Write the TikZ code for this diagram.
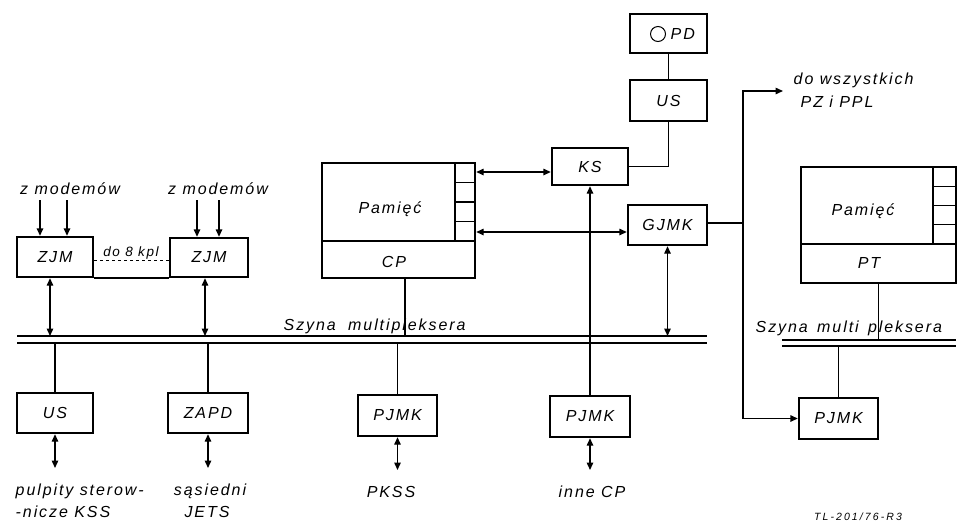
\documentclass[tikz,border=0pt]{standalone}
\usepackage{fontspec}
\setmainfont{Liberation Sans}[LetterSpace=12]
\usetikzlibrary{arrows.meta}
\newcommand\lbl{\fontsize{16}{18}\selectfont\itshape}
\newcommand\lbls{\fontsize{13.5}{15}\selectfont\itshape}
\begin{document}
\begin{tikzpicture}[x=1pt,y=-1pt, line width=1.4pt,
  box/.style={draw, rectangle, line width=2.4pt, inner sep=0pt, font=\lbl},
  tip/.style={-{Triangle[length=7.5pt,width=6.5pt]}},
  dtip/.style={{Triangle[length=7.5pt,width=6.5pt]}-{Triangle[length=7.5pt,width=6.5pt]}},
  txt/.style={font=\lbl, inner sep=0pt}]
\useasboundingbox (0,0) rectangle (960,523);
% boxes
\node[box, minimum width=76pt, minimum height=40pt] (zjm1) at (55,257) {ZJM};
\node[box, minimum width=78pt, minimum height=39pt] (zjm2) at (209,257.5) {ZJM};
\node[box, minimum width=76pt, minimum height=40pt] (usL) at (55,413) {US};
\node[box, minimum width=80pt, minimum height=40pt] (zapd) at (208,413) {ZAPD};
\node[box, minimum width=153pt, minimum height=115pt] (cp) at (398.5,220.5) {};
\node[box, minimum width=79pt, minimum height=41pt] (pjmk1) at (397.5,415.5) {PJMK};
\node[box, minimum width=80pt, minimum height=41pt] (pjmk2) at (590,416.5) {PJMK};
\node[box, minimum width=76pt, minimum height=37pt] (ks) at (590,166.5) {KS};
\node[box, minimum width=77pt, minimum height=39pt] (opd) at (668.5,33.5) {};
\node[box, minimum width=77pt, minimum height=41pt] (usT) at (668.5,100.5) {US};
\node[box, minimum width=79pt, minimum height=40pt] (gjmk) at (667.5,225) {GJMK};
\node[box, minimum width=155pt, minimum height=116pt] (pt) at (878.5,225) {};
\node[box, minimum width=79pt, minimum height=41pt] (pjmk3) at (838.5,418.5) {PJMK};
% OPD content
\draw[line width=1pt] (658,34) circle (7.5pt);
\node[txt, anchor=west] (pd) at (670,34) {PD};
% CP internals
\draw (322,241) -- (475,241);
\draw (455,163) -- (455,241);
\foreach \yy in {182.5,202,221.5} \draw (455,\yy) -- (475,\yy);
\node[txt, anchor=base] (cpmem) at (390,213) {Pamięć};
\node[txt, anchor=base] (cplab) at (394,267) {CP};
% PT internals
\draw (801,244) -- (956,244);
\draw (933,167) -- (933,244);
\foreach \yy in {186.25,205.5,224.75} \draw (933,\yy) -- (956,\yy);
\node[txt, anchor=base] (ptmem) at (863,215) {Pamięć};
\node[txt, anchor=base] (ptlab) at (869,268) {PT};
% buses
\coordinate (busT) at (0,336);
\coordinate (busB) at (0,343);
\draw (17,336) -- (707,336);
\draw (17,343) -- (707,343);
\node[txt, anchor=base west] (bus1) at (283,330) {Szyna\hspace{6pt} multipleksera};
\coordinate (bus2T) at (0,340);
\coordinate (bus2B) at (0,346);
\draw (782,340) -- (956,340);
\draw (782,346) -- (956,346);
\node[txt, anchor=base west] (bus2) at (755,332) {Szyna\hspace{3pt} multi\hspace{3pt} pleksera};
% modem inputs
\node[txt] (zm1) at (70,189) {z modemów};
\node[txt] (zm2) at (218,189) {z modemów};
\coordinate (m1) at (40,200);
\coordinate (m2) at (67,200);
\coordinate (m3) at (197,200);
\coordinate (m4) at (219,200);
\draw[tip] (m1) -- (zjm1.north -| m1);
\draw[tip] (m2) -- (zjm1.north -| m2);
\draw[tip] (m3) -- (zjm2.north -| m3);
\draw[tip] (m4) -- (zjm2.north -| m4);
% between ZJM
\draw[line width=2pt] (zjm1.south east) -- (zjm2.south west);
\draw[dashed, line width=1pt] (zjm1.east |- 0,260) -- (zjm2.west |- 0,260);
\node[font=\lbls, inner sep=0pt, anchor=base] (do8) at (131,256) {do 8 kpl};
% ZJM to bus
\draw[dtip] ([xshift=-5pt]zjm1.south) -- ([xshift=-5pt]zjm1.south |- busT);
\draw[dtip] ([xshift=-4pt]zjm2.south) -- ([xshift=-4pt]zjm2.south |- busT);
% bottom left
\draw (usL.north) -- (usL.north |- busB);
\draw (zapd.north) -- (zapd.north |- busB);
\coordinate (eUS) at (55,468);
\coordinate (eZA) at (208,468);
\draw[dtip] (usL.south) -- (eUS);
\draw[dtip] (zapd.south) -- (eZA);
\node[txt, anchor=base west] (pl1) at (15,495) {pulpity sterow-};
\node[txt, anchor=base west] (pl2) at (15,517) {-nicze KSS};
\node[txt, anchor=base] (sa1) at (210,495) {sąsiedni};
\node[txt, anchor=base] (sa2) at (207,517) {JETS};
% CP to bus
\draw ([xshift=6.5pt]cp.south) -- ([xshift=6.5pt]cp.south |- busT);
\draw (pjmk1.north) -- (pjmk1.north |- busB);
\coordinate (eP1) at (397.5,470);
\draw[dtip] (pjmk1.south) -- (eP1);
\node[txt, anchor=base] (pkss) at (391,497) {PKSS};
% PJMK2 to KS
\draw[tip] (pjmk2.north) -- (ks.south);
\coordinate (eP2) at (590,470);
\draw[dtip] (pjmk2.south) -- (eP2);
\node[txt, anchor=base] (inne) at (592,497) {inne CP};
% CP to KS / GJMK
\draw[dtip] (cp.east |- 0,172) -- (ks.west |- 0,172);
\draw[dtip] (cp.east |- 0,232) -- (gjmk.west |- 0,232);
% OPD - US - KS
\draw (opd.south) -- (usT.north);
\draw (usT.south) |- (ks.east);
% GJMK to bus
\draw[dtip] (gjmk.south) -- (gjmk.south |- busT);
% GJMK distribution
\coordinate (j) at (743,223);
\coordinate (doall) at (783,91);
\draw (gjmk.east |- j) -- (j);
\draw[tip] (j) |- (doall);
\draw[tip] (j) |- (pjmk3.west);
\node[txt, anchor=base west] (dw1) at (793,84) {do wszystkich};
\node[txt, anchor=base west] (dw2) at (800,107) {PZ i PPL};
% PT to bus2
\draw (pt.south) -- (pt.south |- bus2T);
\draw (pjmk3.north) -- (pjmk3.north |- bus2B);
\node[font=\fontsize{10.5}{12}\selectfont\itshape\addfontfeature{LetterSpace=20}, inner sep=0pt, anchor=base] (tl) at (858,520) {TL-201/76-R3};
\end{tikzpicture}
\end{document}
